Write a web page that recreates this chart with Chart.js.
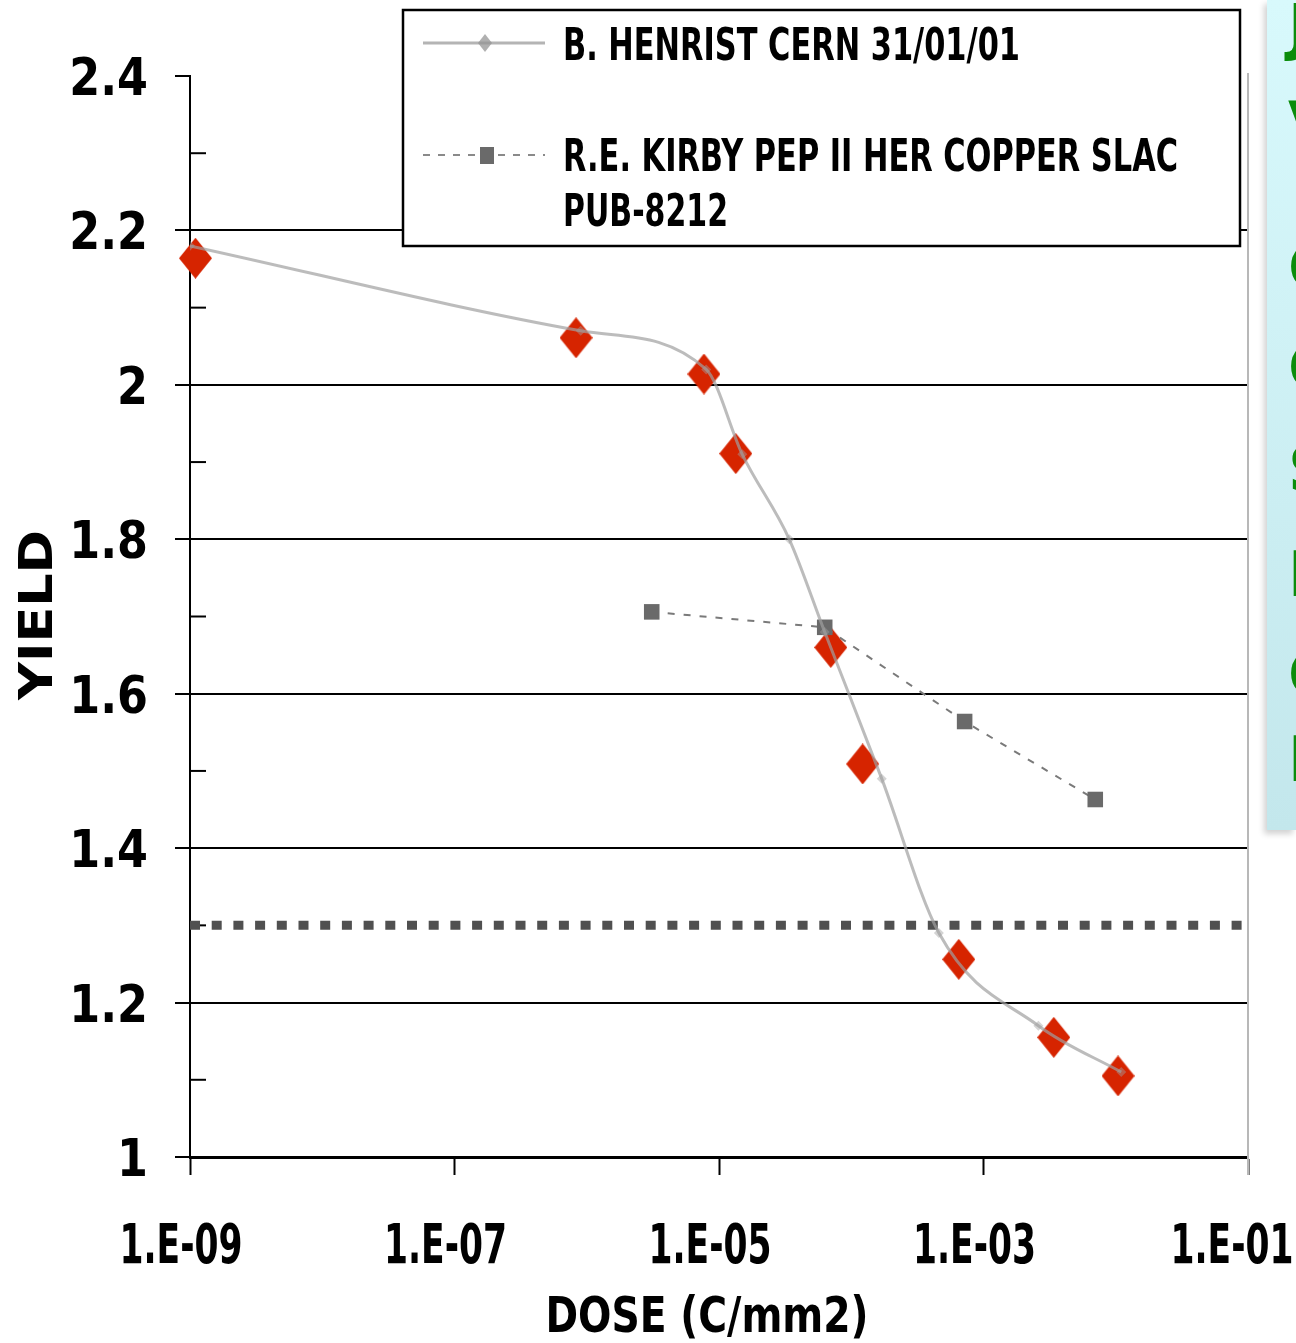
<!DOCTYPE html>
<html>
<head>
<meta charset="utf-8">
<script src="https://cdn.jsdelivr.net/npm/chart.js@4.4.1/dist/chart.umd.min.js"></script>
<style>
  html, body { margin: 0; padding: 0; background: #fff; }
  #wrap { position: relative; width: 1296px; height: 1343px; overflow: hidden; }
  #note { position: absolute; left: 1267px; top: 0; width: 29px; height: 830px; overflow: hidden;
          background: linear-gradient(#d8f9fc, #c3e7ec); box-shadow: -3px 4px 6px rgba(0,0,0,0.18); }
  #note span { position: absolute; left: 21px; font: bold 62px "DejaVu Sans", sans-serif; color: #0b8c0b; line-height: 1; }
</style>
</head>
<body>
<div id="wrap">
  <canvas id="myChart" width="1296" height="1343"></canvas>
  <div id="note">
    <span style="top:-4px">J</span>
    <span style="top:94px">V</span>
    <span style="top:237px">C</span>
    <span style="top:337px">C</span>
    <span style="top:439px">S</span>
    <span style="top:544px">E</span>
    <span style="top:644px">C</span>
    <span style="top:729px">E</span>
  </div>
</div>
<script>
// données
const henristDose  = [1e-9, 9e-7, 8e-6, 1.5e-5, 3.4e-5, 6.3e-5, 1.7e-4, 4.6e-4, 2.6e-3, 1.1e-2];
const henristYield = [2.18, 2.07, 2.02, 1.91, 1.80, 1.68, 1.49, 1.29, 1.17, 1.11];

const kirbyDose  = [3.1e-6, 6.3e-5, 7.2e-4, 7.0e-3];
const kirbyYield = [1.706, 1.686, 1.564, 1.463];

const redDose  = [1.1e-9, 8.3e-7, 7.7e-6, 1.34e-5, 7.0e-5, 1.22e-4, 6.5e-4, 3.4e-3, 1.04e-2];
const redYield = [2.164, 2.061, 2.014, 1.911, 1.660, 1.509, 1.256, 1.155, 1.105];

const thresholdYield = 1.3;
const doseRange = [1e-9, 1e-1];

const xTickVals   = [1e-9, 1e-7, 1e-5, 1e-3, 1e-1];
const xTickLabels = ['1.E-09', '1.E-07', '1.E-05', '1.E-03', '1.E-01'];
const yTickVals   = [1, 1.2, 1.4, 1.6, 1.8, 2, 2.2, 2.4];
const yTickLabels = ['1', '1.2', '1.4', '1.6', '1.8', '2', '2.2', '2.4'];
const yMinorVals  = [1.1, 1.3, 1.5, 1.7, 1.9, 2.1, 2.3];

const legendLabels = ['B. HENRIST CERN 31/01/01', 'R.E. KIRBY PEP II HER COPPER SLAC', 'PUB-8212'];

const FONT = '"DejaVu Sans Condensed", "DejaVu Sans", sans-serif';

function pts(xs, ys) { return xs.map((x, i) => ({ x: x, y: ys[i] })); }

function diamond(w, h, color) {
    const c = document.createElement('canvas');
    c.width = w; c.height = h;
    const g = c.getContext('2d');
    g.fillStyle = color;
    g.beginPath();
    g.moveTo(w / 2, 0); g.lineTo(w, h / 2); g.lineTo(w / 2, h); g.lineTo(0, h / 2);
    g.closePath(); g.fill();
    return c;
}

// texte écrasé horizontalement (police étroite de l'original)
function textAt(ctx, txt, x, y, size, opts) {
    opts = opts || {};
    ctx.save();
    ctx.font = 'bold ' + size + 'px ' + FONT;
    let sx = opts.sx || 1;
    if (opts.width) sx = opts.width / ctx.measureText(txt).width;
    ctx.translate(x, y);
    if (opts.rotate) ctx.rotate(opts.rotate);
    ctx.scale(sx, 1);
    ctx.textAlign = opts.align || 'left';
    ctx.textBaseline = 'alphabetic';
    ctx.fillStyle = '#000';
    ctx.fillText(txt, 0, size * 0.365);
    ctx.restore();
}

const decor = {
    id: 'decor',
    beforeDatasetsDraw(chart) {
        const ctx = chart.ctx, y = chart.scales.y, a = chart.chartArea;
        ctx.save();
        // bord droit
        ctx.strokeStyle = '#b8b8b8';
        ctx.lineWidth = 2;
        ctx.beginPath();
        ctx.moveTo(a.right, a.top - 3);
        ctx.lineTo(a.right, a.bottom + 18);
        ctx.stroke();
        // graduations secondaires
        ctx.strokeStyle = '#000';
        ctx.lineWidth = 2;
        yMinorVals.forEach(v => {
            const py = y.getPixelForValue(v);
            ctx.beginPath();
            ctx.moveTo(a.left, py);
            ctx.lineTo(a.left + 16, py);
            ctx.stroke();
        });
        ctx.restore();
    },
    afterDraw(chart) {
        const ctx = chart.ctx, x = chart.scales.x, y = chart.scales.y;

        yTickVals.forEach((v, i) => {
            textAt(ctx, yTickLabels[i], 148, y.getPixelForValue(v), 52, { sx: 0.95, align: 'right' });
        });
        xTickVals.forEach((v, i) => {
            const cx = Math.min(x.getPixelForValue(v) - 9, 1294 - 62);
            textAt(ctx, xTickLabels[i], cx, 1243, 55, { width: 123, align: 'center' });
        });

        textAt(ctx, 'DOSE (C/mm2)', 707, 1314, 50, { width: 323, align: 'center' });
        textAt(ctx, 'YIELD', 35, 615, 46, { width: 170, align: 'center', rotate: -Math.PI / 2 });

        // légende
        ctx.save();
        ctx.fillStyle = '#fff';
        ctx.fillRect(403, 10, 837, 236);
        ctx.strokeStyle = '#000';
        ctx.lineWidth = 2.5;
        ctx.strokeRect(403, 10, 837, 236);

        ctx.strokeStyle = '#b4b4b4';
        ctx.lineWidth = 3;
        ctx.beginPath(); ctx.moveTo(423, 43); ctx.lineTo(545, 43); ctx.stroke();
        ctx.fillStyle = 'rgba(150,150,150,0.75)';
        ctx.beginPath();
        ctx.moveTo(485, 34); ctx.lineTo(492, 43); ctx.lineTo(485, 52); ctx.lineTo(478, 43);
        ctx.closePath(); ctx.fill();

        ctx.strokeStyle = '#8a8a8a';
        ctx.lineWidth = 2;
        ctx.setLineDash([7, 8]);
        ctx.beginPath(); ctx.moveTo(423, 155); ctx.lineTo(545, 155); ctx.stroke();
        ctx.setLineDash([]);
        ctx.fillStyle = '#6a6a6a';
        ctx.fillRect(480, 147, 14, 17);
        ctx.restore();

        textAt(ctx, legendLabels[0], 563, 44, 44, { width: 457 });
        textAt(ctx, legendLabels[1], 563, 155, 44, { width: 615 });
        textAt(ctx, legendLabels[2], 563, 210, 44, { width: 165 });
    }
};

const ctx = document.getElementById('myChart').getContext('2d');
const myChart = new Chart(ctx, {
    type: 'line',
    data: {
        datasets: [{
            label: 'B. HENRIST CERN 31/01/01',
            data: pts(henristDose, henristYield),
            borderColor: 'rgba(160,160,160,0.7)',
            borderWidth: 3,
            cubicInterpolationMode: 'monotone',
            pointStyle: 'rectRot',
            pointRadius: 5,
            pointBackgroundColor: 'rgba(160,160,160,0.45)',
            pointBorderWidth: 0
        }, {
            label: 'R.E. KIRBY PEP II HER COPPER SLAC PUB-8212',
            data: pts(kirbyDose, kirbyYield),
            borderColor: '#7a7a7a',
            borderWidth: 2,
            borderDash: [7, 9],
            tension: 0,
            pointStyle: 'rect',
            pointRadius: 11,
            pointBackgroundColor: '#6a6a6a',
            pointBorderWidth: 0
        }, {
            label: 'seuil',
            data: pts(doseRange, [thresholdYield, thresholdYield]),
            borderColor: '#505050',
            borderWidth: 9,
            borderDash: [10, 11.7],
            pointRadius: 0
        }, {
            label: 'mesures',
            data: pts(redDose, redYield),
            showLine: false,
            pointStyle: diamond(33, 41, '#d62400'),
            clip: false
        }]
    },
    options: {
        responsive: false,
        animation: false,
        layout: { padding: { top: 76, right: 48, left: 0, bottom: 0 } },
        plugins: { legend: { display: false }, tooltip: { enabled: false } },
        scales: {
            x: {
                type: 'logarithmic',
                min: doseRange[0],
                max: doseRange[1],
                afterBuildTicks: s => { s.ticks = xTickVals.map(v => ({ value: v })); },
                afterFit: s => { s.height = 186; },
                ticks: { display: false },
                grid: { drawOnChartArea: false, tickLength: 18, tickColor: '#000', tickWidth: 2 },
                border: { color: '#000', width: 3 }
            },
            y: {
                min: 1,
                max: 2.4,
                afterBuildTicks: s => { s.ticks = yTickVals.map(v => ({ value: v })); },
                afterFit: s => { s.width = 190; },
                ticks: { display: false },
                grid: {
                    color: c => (c.tick && c.tick.value > 2.35) ? 'rgba(0,0,0,0)' : '#000',
                    lineWidth: 2,
                    tickLength: 15,
                    tickColor: '#000',
                    tickWidth: 2
                },
                border: { color: '#000', width: 2 }
            }
        }
    },
    plugins: [decor]
});
</script>
</body>
</html>
